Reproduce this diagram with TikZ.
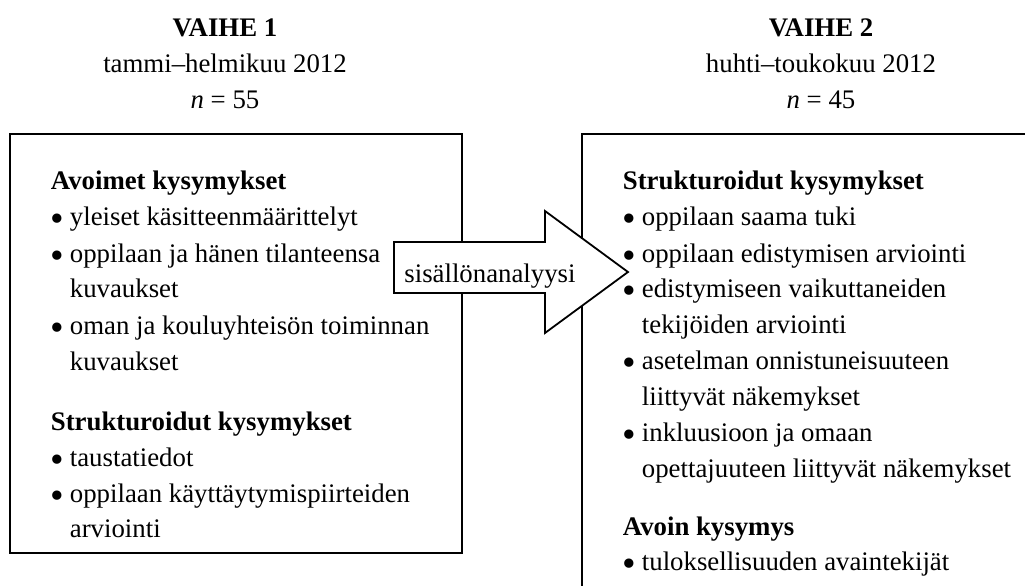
\documentclass[tikz,border=0pt]{standalone}
\usepackage{fontspec}
\usepackage{graphicx}
\setmainfont{Liberation Serif}
\newcommand{\bul}{\makebox[9.5pt][l]{\raisebox{-0.5ex}{\scalebox{1.45}{\textbullet}}}}
\tikzset{
  ln/.style={anchor=base west, inner sep=0pt},
  hd/.style={anchor=base west, inner sep=0pt, font=\bfseries},
  ttl/.style={anchor=base, inner sep=0pt}
}
\begin{document}
\fontsize{13.4pt}{16pt}\selectfont
\begin{tikzpicture}[x=0.5pt, y=-0.5pt, line width=0.9pt, line join=miter]
	\useasboundingbox (0,0) rectangle (1025,585);
	\path
	(10,134) coordinate (A)
	(462,553) coordinate (B)
	(582,134) coordinate (C)
	(1040,134) coordinate (Ce)
	(582,600) coordinate (Cs)
	;
	\draw (A) rectangle (B);
	\draw (Ce) -- (C) -- (Cs);
	% otsikot
	\foreach \x/\k/\t/\m in {225/1/tammi–helmikuu 2012/55, 821/2/huhti–toukokuu 2012/45}{
		\node[ttl, font=\bfseries] (v\k) at (\x,36) {VAIHE \k};
		\node[ttl] (p\k) at (\x,72) {\t};
		\node[ttl] (n\k) at (\x,108) {\textit{n} = \m};
	}
	% vaihe 1
	\node[hd] (h1) at (50,189) {Avoimet kysymykset};
	\node[hd] (h2) at (50,430) {Strukturoidut kysymykset};
	\foreach \x/\y/\t [count=\i] in {
		50/225/\bul yleiset käsitteenmäärittelyt,
		50/262/\bul oppilaan ja hänen tilanteensa,
		69/297/kuvaukset,
		50/334/\bul oman ja kouluyhteisön toiminnan,
		69/370/kuvaukset,
		50/466/\bul taustatiedot,
		50/502/\bul oppilaan käyttäytymispiirteiden,
		69/537/arviointi}
	\node[ln] (a\i) at (\x,\y) {\t};
	% vaihe 2
	\node[hd] (h3) at (622,189) {Strukturoidut kysymykset};
	\node[hd] (h4) at (622,535) {Avoin kysymys};
	\foreach \x/\y/\t [count=\i] in {
		622/225/\bul oppilaan saama tuki,
		622/262/\bul oppilaan edistymisen arviointi,
		622/297/\bul edistymiseen vaikuttaneiden,
		641/333/tekijöiden arviointi,
		622/369/\bul asetelman onnistuneisuuteen,
		641/405/liittyvät näkemykset,
		622/441/\bul inkluusioon ja omaan,
		641/477/opettajuuteen liittyvät näkemykset,
		622/570/\bul tuloksellisuuden avaintekijät}
	\node[ln] (b\i) at (\x,\y) {\t};
	% nuoli
	\draw[fill=white] (394,242) -- (545,242) -- (545,211) -- (628,272)
		-- (545,333) -- (545,293) -- (394,293) -- cycle;
	\node[ttl] (sa) at (490,282) {sisällönanalyysi};
\end{tikzpicture}
\end{document}
